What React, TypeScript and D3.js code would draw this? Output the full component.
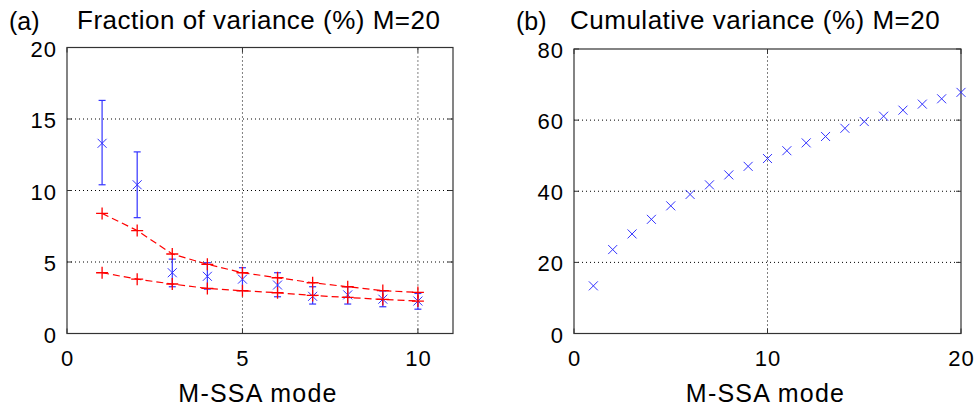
import React from "react";
import * as d3 from "d3";

const modesA = [1, 2, 3, 4, 5, 6, 7, 8, 9, 10];
const fracVar = [13.3, 10.4, 4.25, 4.0, 3.8, 3.39, 2.6, 2.7, 2.4, 2.27];
const errLow = [10.4, 8.1, 3.27, 3.1, 3.0, 2.57, 2.06, 2.06, 1.87, 1.7];
const errHigh = [16.3, 12.7, 5.2, 4.95, 4.6, 4.25, 3.27, 3.27, 2.97, 2.8];
const upperBound = [8.4, 7.2, 5.56, 4.84, 4.25, 3.9, 3.55, 3.27, 3.0, 2.87];
const lowerBound = [4.25, 3.8, 3.46, 3.15, 2.99, 2.85, 2.66, 2.52, 2.38, 2.27];

const modesB = [1, 2, 3, 4, 5, 6, 7, 8, 9, 10, 11, 12, 13, 14, 15, 16, 17, 18, 19, 20];
const cumVar = [13.4, 23.6, 28.0, 32.1, 35.9, 39.1, 41.8, 44.6, 47.0, 49.2, 51.4, 53.6, 55.4, 57.7, 59.6, 61.1, 62.8, 64.5, 66.0, 67.8];

const xTicksA = [0, 5, 10];
const yTicksA = [0, 5, 10, 15, 20];
const xTicksB = [0, 10, 20];
const yTicksB = [0, 20, 40, 60, 80];

const FONT = "'Liberation Sans', Arial, Helvetica, sans-serif";
const BLUE = "#3333ff";
const RED = "#ff0000";

function Frame({ x, y, xt, yt, gx, gy }: any) {
  const [x0, x1] = x.range();
  const [y0, y1] = y.range();
  const tl = 5;
  return (
    <g>
      {gx.map((v: number) => (
        <line key={"gx" + v} x1={x(v)} x2={x(v)} y1={y0} y2={y1} stroke="#000" strokeWidth={1} strokeDasharray="1,3" />
      ))}
      {gy.map((v: number) => (
        <line key={"gy" + v} x1={x0} x2={x1} y1={y(v)} y2={y(v)} stroke="#000" strokeWidth={1} strokeDasharray="1,3" />
      ))}
      {xt.map((v: number) => (
        <g key={"xt" + v}>
          <line x1={x(v)} x2={x(v)} y1={y0} y2={y0 - tl} stroke="#333" />
          <line x1={x(v)} x2={x(v)} y1={y1} y2={y1 + tl} stroke="#333" />
          <text x={x(v) + 0.5} y={y0 + 32.5} textAnchor="middle" fontSize={22} letterSpacing={1} fontFamily={FONT}>{v}</text>
        </g>
      ))}
      {yt.map((v: number) => (
        <g key={"yt" + v}>
          <line x1={x0} x2={x0 + tl} y1={y(v)} y2={y(v)} stroke="#333" />
          <line x1={x1} x2={x1 - tl} y1={y(v)} y2={y(v)} stroke="#333" />
          <text x={x0 - 10} y={y(v) + 9} textAnchor="end" fontSize={22} letterSpacing={1} fontFamily={FONT}>{v}</text>
        </g>
      ))}
      <rect x={x0} y={y1} width={x1 - x0} height={y0 - y1} fill="none" stroke="#333" strokeWidth={1.2} />
      <text x={(x0 + x1) / 2 - 2} y={402} textAnchor="middle" fontSize={25} letterSpacing={1.2} fontFamily={FONT}>M-SSA mode</text>
    </g>
  );
}

function XMark({ cx, cy, r, color }: any) {
  return (
    <path d={`M${cx - r},${cy - r}L${cx + r},${cy + r}M${cx - r},${cy + r}L${cx + r},${cy - r}`} stroke={color} strokeWidth={1} fill="none" />
  );
}
function PlusMark({ cx, cy, r, color }: any) {
  return (
    <path d={`M${cx - r},${cy}L${cx + r},${cy}M${cx},${cy - r}L${cx},${cy + r}`} stroke={color} strokeWidth={1.3} fill="none" />
  );
}

export default function App() {
  const xA = d3.scaleLinear().domain([0, 11]).range([67, 453]);
  const yA = d3.scaleLinear().domain([0, 20]).range([333.5, 47.5]);
  const xB = d3.scaleLinear().domain([0, 20]).range([574, 961]);
  const yB = d3.scaleLinear().domain([0, 80]).range([333.5, 49]);

  const line = (arr: number[]) =>
    d3.line<number>().x((_, i) => xA(modesA[i])).y((v) => yA(v))(arr) as string;

  return (
    <svg width={979} height={410} style={{ position: "absolute", left: 0, top: 0, background: "#fff" }}>
      <rect width={979} height={410} fill="#fff" />
      {/* Panel a */}
      <Frame x={xA} y={yA} xt={xTicksA} yt={yTicksA} gx={[5, 10]} gy={[5, 10, 15]} />
      <path d={line(upperBound)} stroke={RED} fill="none" strokeWidth={1.2} strokeDasharray="7,4" />
      <path d={line(lowerBound)} stroke={RED} fill="none" strokeWidth={1.2} strokeDasharray="7,4" />
      {modesA.map((m, i) => (
        <g key={"a" + m}>
          <line x1={xA(m)} x2={xA(m)} y1={yA(errLow[i])} y2={yA(errHigh[i])} stroke={BLUE} strokeWidth={1.2} />
          <line x1={xA(m) - 3.5} x2={xA(m) + 3.5} y1={yA(errLow[i])} y2={yA(errLow[i])} stroke={BLUE} strokeWidth={1.2} />
          <line x1={xA(m) - 3.5} x2={xA(m) + 3.5} y1={yA(errHigh[i])} y2={yA(errHigh[i])} stroke={BLUE} strokeWidth={1.2} />
          <XMark cx={xA(m)} cy={yA(fracVar[i])} r={4.5} color={BLUE} />
          <PlusMark cx={xA(m)} cy={yA(upperBound[i])} r={6} color={RED} />
          <PlusMark cx={xA(m)} cy={yA(lowerBound[i])} r={6} color={RED} />
        </g>
      ))}
      <text x={9} y={30} fontSize={25} fontFamily={FONT}>(a)</text>
      <text x={77} y={29} fontSize={26} letterSpacing={0.5} fontFamily={FONT}>Fraction of variance (%) M=20</text>

      {/* Panel b */}
      <Frame x={xB} y={yB} xt={xTicksB} yt={yTicksB} gx={[10]} gy={[20, 40, 60]} />
      {modesB.map((m, i) => (
        <XMark key={"b" + m} cx={xB(m)} cy={yB(cumVar[i])} r={4.5} color={BLUE} />
      ))}
      <text x={516} y={30} fontSize={25} fontFamily={FONT}>(b)</text>
      <text x={570} y={29} fontSize={26} letterSpacing={0.5} fontFamily={FONT}>Cumulative variance (%) M=20</text>
    </svg>
  );
}
